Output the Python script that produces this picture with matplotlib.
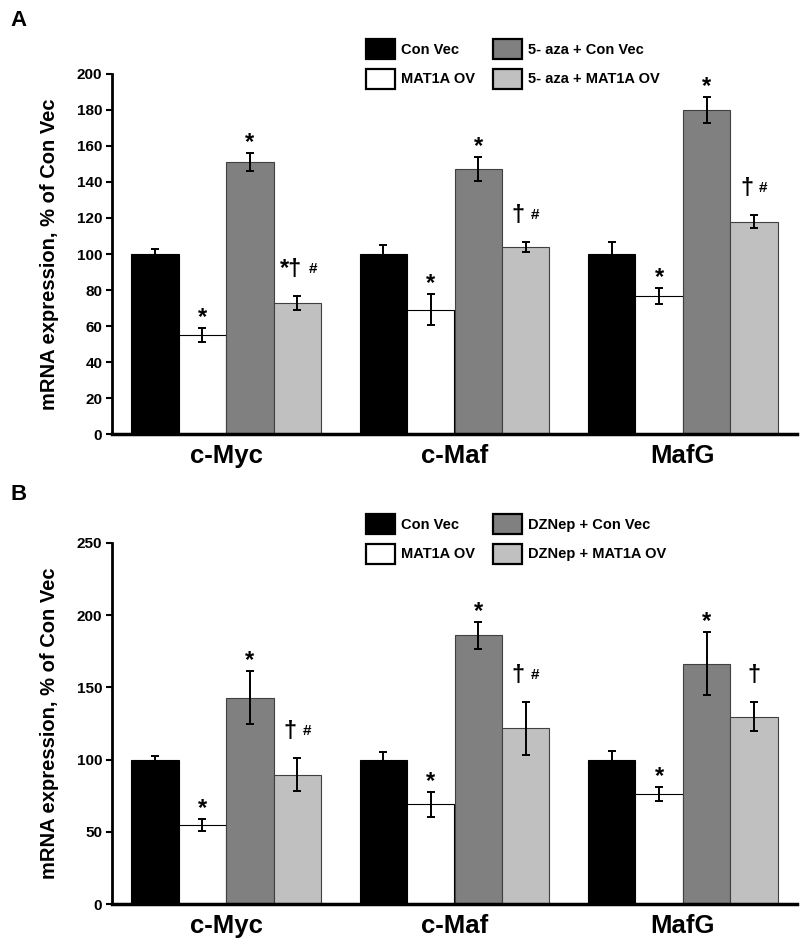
import numpy as np
import matplotlib
matplotlib.use("Agg")
import matplotlib.pyplot as plt
from matplotlib.patches import Patch

# data
genes = ["c-Myc", "c-Maf", "MafG"]

series_a = ["Con Vec", "MAT1A OV", "5- aza + Con Vec", "5- aza + MAT1A OV"]
a_con = [100, 100, 100]
a_con_err = [2.5, 5, 6.5]
a_mat = [55, 69, 76.5]
a_mat_err = [4, 8.5, 4.5]
a_aza = [151, 147, 180]
a_aza_err = [5, 6.7, 7.4]
a_azamat = [72.7, 104, 118]
a_azamat_err = [4, 2.9, 3.7]
a_marks = [["", "", ""], ["*", "*", "*"], ["*", "*", "*"], ["*\u2020#", "\u2020#", "\u2020#"]]

series_b = ["Con Vec", "MAT1A OV", "DZNep + Con Vec", "DZNep + MAT1A OV"]
b_con = [100, 100, 100]
b_con_err = [2.5, 5.5, 6]
b_mat = [54.7, 69, 76.4]
b_mat_err = [4.3, 8.7, 4.8]
b_dz = [143, 186, 166.4]
b_dz_err = [18.5, 9.2, 21.7]
b_dzmat = [89.5, 121.6, 129.7]
b_dzmat_err = [11.3, 18.5, 10]
b_marks = [["", "", ""], ["*", "*", "*"], ["*", "*", "*"], ["\u2020#", "\u2020#", "\u2020"]]

colors = ["black", "white", "#808080", "#c0c0c0"]

W, H = 800, 949
arial = ["Liberation Sans", "DejaVu Sans"]

fig = plt.figure(figsize=(W / 100, H / 100), dpi=100)


def px(v):
    return v * 0.72  # pixels -> points


def panel(rect, means, errs, marks, names, ymax, ystep, leg_top, letter, letter_top):
    ax = fig.add_axes(rect)
    x = np.arange(len(genes)) + 0.5
    w = 0.208
    for i in range(4):
        xs = x + (i - 1.5) * w
        ax.bar(xs, means[i], w, color=colors[i],
               edgecolor="black" if i < 2 else "#404040", linewidth=0.8, zorder=2)
        ax.errorbar(xs, means[i], yerr=errs[i], fmt="none", ecolor="black",
                    elinewidth=1.4, capsize=3, capthick=1.4, zorder=3)
        for j in range(len(genes)):
            s = marks[i][j]
            if not s:
                continue
            top = means[i][j] + errs[i][j]
            main = s.replace("#", "")
            if "\u2020" in main:
                dy = px(20)
            else:
                dy = px(4)
            if "#" in s:
                right = px(5) if "*" in main else px(-1)
                ax.annotate(main, (xs[j], top), xytext=(right, dy), textcoords="offset points",
                            ha="right", va="baseline", fontsize=17, fontweight="bold",
                            family=arial, zorder=4)
                ax.annotate("#", (xs[j], top), xytext=(right + px(6), dy + px(3)),
                            textcoords="offset points", ha="left", va="baseline",
                            fontsize=11, fontweight="bold", family=arial, zorder=4)
            else:
                ax.annotate(main, (xs[j], top), xytext=(0, dy), textcoords="offset points",
                            ha="center", va="baseline", fontsize=17, fontweight="bold",
                            family=arial, zorder=4)

    ax.set_xlim(0, 3)
    ax.set_ylim(0, ymax)
    ax.set_yticks(np.arange(0, ymax + 1, ystep))
    ax.set_xticks(x)
    ax.set_xticklabels(genes, fontsize=18.5, fontweight="bold", family=arial)
    for lab in ax.get_yticklabels():
        lab.set_fontsize(11)
        lab.set_fontweight("bold")
        lab.set_family(arial)
    ax.tick_params(axis="x", length=0, pad=7)
    ax.tick_params(axis="y", length=4, width=1.5, direction="out", pad=3)
    for side in ["top", "right"]:
        ax.spines[side].set_visible(False)
    ax.spines["left"].set_linewidth(2.0)
    ax.spines["bottom"].set_linewidth(2.5)
    ax.set_ylabel("mRNA expression, % of Con Vec", fontsize=14.5, fontweight="bold",
                  family=arial)
    ax.yaxis.set_label_coords(-0.078, 0.5)

    handles = [Patch(facecolor=c, edgecolor="black", linewidth=1.6) for c in colors]
    fs = 10.5
    em = fs / 0.72
    fig.legend(handles, names, ncol=2, loc="upper left",
               bbox_to_anchor=(366 / W, 1 - leg_top / H), frameon=False,
               borderpad=0, borderaxespad=0, handlelength=29 / em, handleheight=25 / em,
               handletextpad=6 / em, labelspacing=10 / em, columnspacing=18 / em,
               prop={"family": arial, "weight": "bold", "size": fs})
    fig.text(10 / W, 1 - letter_top / H, letter, fontsize=16, fontweight="bold",
             family=arial, va="top", ha="left")
    return ax


def rect(left, right, top, bottom):
    return [left / W, 1 - bottom / H, (right - left) / W, (bottom - top) / H]


panel(rect(112, 797, 74, 434),
      [a_con, a_mat, a_aza, a_azamat],
      [a_con_err, a_mat_err, a_aza_err, a_azamat_err],
      a_marks, series_a, 200, 20, 39, "A", 10)

panel(rect(112, 797, 543, 904),
      [b_con, b_mat, b_dz, b_dzmat],
      [b_con_err, b_mat_err, b_dz_err, b_dzmat_err],
      b_marks, series_b, 250, 50, 514, "B", 484)

fig.savefig("out.png", dpi=100)
